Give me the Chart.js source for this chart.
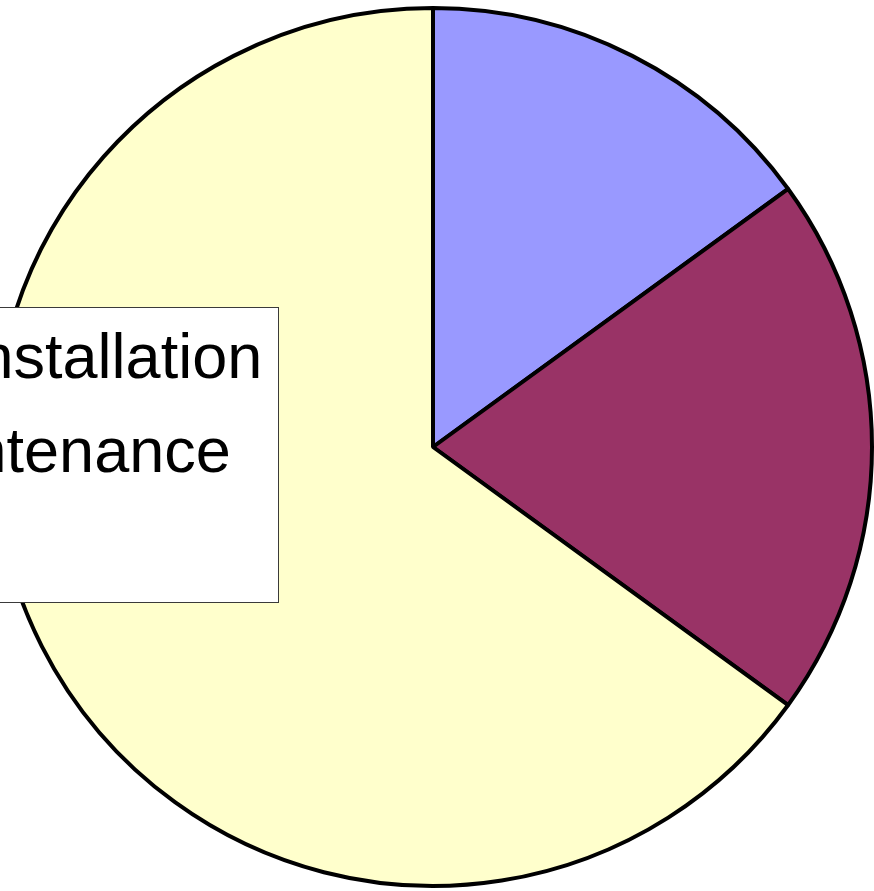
<!DOCTYPE html>
<html lang="en">
<head>
<meta charset="utf-8">
<title>Cost breakdown</title>
<script src="https://cdn.jsdelivr.net/npm/chart.js@4.4.1/dist/chart.umd.min.js"></script>
<style>
  html, body { margin: 0; padding: 0; background: #ffffff; overflow: hidden; }
  #wrap { position: relative; width: 874px; height: 891px; }
</style>
</head>
<body>
<div id="wrap"><canvas id="pie" width="874" height="891"></canvas></div>
<script>
// Pie data: share of each cost item (percent), clockwise from 12 o'clock
const categories = ['Kit Installation', 'Maintenance', 'Fuel'];
const shares = [15, 20, 65];
const sliceColors = ['#9999FF', '#993366', '#FFFFCC'];

(() => {
  'use strict';

  const FONT = "'Liberation Sans', Arial, sans-serif";

  // Legend box sits over the left part of the pie, partly off the canvas
  const LEGEND = {
    left: -200,
    top: 307,
    right: 278,
    bottom: 602,
    textX: -130,
    firstBaseline: 378,
    lineStep: 94,
    fontSize: 63,
    swatch: 30,
  };

  /**
   * Draws the boxed legend on top of the pie.
   */
  const boxedLegend = {
    id: 'boxedLegend',
    afterDraw(chart) {
      const ctx = chart.ctx;
      const ds = chart.data.datasets[0];
      ctx.save();

      ctx.fillStyle = '#ffffff';
      ctx.fillRect(LEGEND.left, LEGEND.top, LEGEND.right - LEGEND.left, LEGEND.bottom - LEGEND.top);
      ctx.strokeStyle = '#3a3a3a';
      ctx.lineWidth = 1;
      ctx.strokeRect(LEGEND.left + 0.5, LEGEND.top + 0.5,
        LEGEND.right - LEGEND.left, LEGEND.bottom - LEGEND.top);

      ctx.font = LEGEND.fontSize + 'px ' + FONT;
      ctx.textBaseline = 'alphabetic';
      ctx.textAlign = 'left';

      chart.data.labels.forEach((label, i) => {
        const y = LEGEND.firstBaseline + i * LEGEND.lineStep;
        // colour swatch
        ctx.fillStyle = ds.backgroundColor[i];
        ctx.fillRect(LEGEND.textX - 50, y - 26, LEGEND.swatch, LEGEND.swatch);
        ctx.strokeStyle = '#000000';
        ctx.strokeRect(LEGEND.textX - 50, y - 26, LEGEND.swatch, LEGEND.swatch);
        // label
        ctx.fillStyle = '#000000';
        ctx.fillText(label, LEGEND.textX, y);
      });

      ctx.restore();
    },
  };

  new Chart(document.getElementById('pie'), {
    type: 'pie',
    data: {
      labels: categories,
      datasets: [{
        data: shares,
        backgroundColor: sliceColors,
        borderColor: '#000000',
        borderWidth: 4,
        clip: false,
      }],
    },
    options: {
      responsive: false,
      animation: false,
      radius: 439,
      layout: {
        padding: { top: 3, bottom: 0, left: 0, right: 8 },
      },
      plugins: {
        legend: { display: false },
        tooltip: { enabled: false },
      },
    },
    plugins: [boxedLegend],
  });
})();
</script>
</body>
</html>
